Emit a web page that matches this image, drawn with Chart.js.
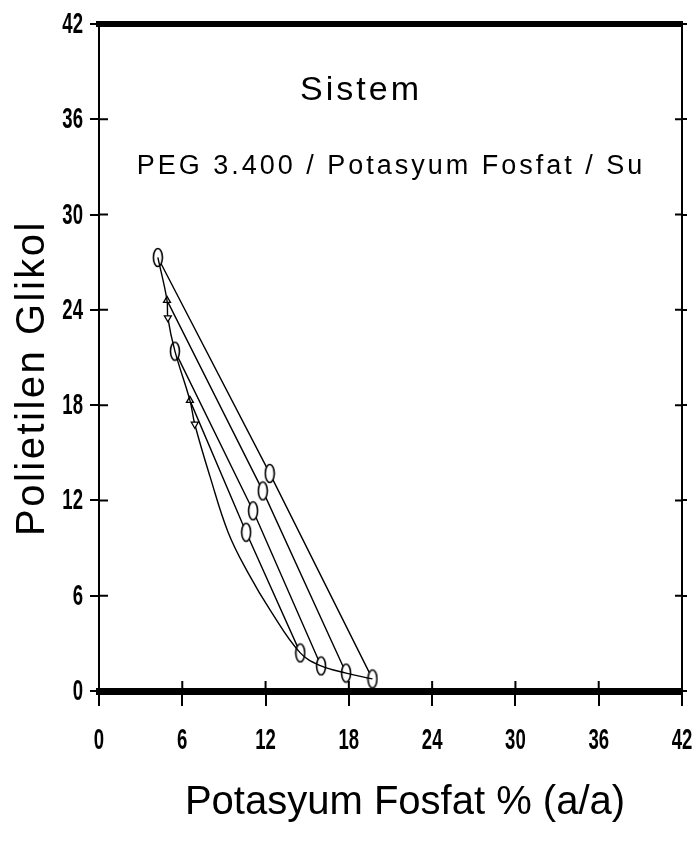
<!DOCTYPE html>
<html>
<head>
<meta charset="utf-8">
<title>PEG 3.400 / Potasyum Fosfat / Su</title>
<script src="https://cdn.jsdelivr.net/npm/chart.js@4"></script>
<style>
  html, body { margin: 0; padding: 0; background: #fff; }
</style>
</head>
<body>
<canvas id="chart" width="699" height="855"></canvas>
<script>
// tick values for both axes
const axisTicks = [0, 6, 12, 18, 24, 30, 36, 42];

// binodal curve
const binodalX = [4.24, 4.9, 4.96, 5.47, 6.55, 6.9, 8.0, 9.3, 10.7, 12.4, 14.5, 16.0, 17.8, 19.7];
const binodalY = [27.3, 24.6, 23.5, 21.4, 18.3, 16.8, 13.5, 10.0, 7.5, 5.0, 2.4, 1.58, 1.13, 0.76];

// tie lines: top phase, total composition, bottom phase
const tie1X = [4.24, 12.3, 19.7];
const tie1Y = [27.3, 13.7, 0.76];
const tie2X = [4.9, 11.8, 17.8];
const tie2Y = [24.6, 12.6, 1.13];
const tie3X = [5.47, 11.1, 16.0];
const tie3Y = [21.4, 11.35, 1.58];
const tie4X = [6.55, 10.6, 14.5];
const tie4Y = [18.3, 10.0, 2.4];

const toPoints = (xs, ys) => xs.map((v, i) => ({ x: v, y: ys[i] }));

// tall open ellipse used as marker
const ellipse = document.createElement('canvas');
ellipse.width = 12;
ellipse.height = 21;
(function () {
  const c = ellipse.getContext('2d');
  c.beginPath();
  c.ellipse(6, 10.5, 4.5, 9, 0, 0, Math.PI * 2);
  c.fillStyle = '#fff';
  c.fill();
  c.lineWidth = 1.6;
  c.strokeStyle = '#000';
  c.stroke();
})();

function tieSet(xs, ys, topStyle) {
  return {
    data: toPoints(xs, ys),
    showLine: true,
    borderColor: '#000',
    borderWidth: 1.4,
    tension: 0,
    pointStyle: [topStyle, ellipse, ellipse],
    pointRadius: 4,
    pointBackgroundColor: '#fff',
    pointBorderColor: '#000',
    pointBorderWidth: 1.3
  };
}

// inward tick stubs, narrow tick labels and the texts
const frameText = {
  id: 'frameText',
  afterDraw(chart) {
    const ctx = chart.ctx;
    const { x, y, y2 } = chart.scales;
    ctx.save();
    ctx.strokeStyle = '#000';
    ctx.lineWidth = 2;
    ctx.beginPath();
    axisTicks.forEach(v => {
      const py = y.getPixelForValue(v);
      ctx.moveTo(y.right, py);
      ctx.lineTo(y.right + 9, py);
      const ry = y2.getPixelForValue(v);
      ctx.moveTo(y2.left - 7, ry);
      ctx.lineTo(y2.left, ry);
      const px = x.getPixelForValue(v);
      ctx.moveTo(px, x.top - 10);
      ctx.lineTo(px, x.top);
    });
    ctx.stroke();

    ctx.fillStyle = '#000';
    ctx.textBaseline = 'middle';
    ctx.font = 'bold 29px "Liberation Sans", Arial, sans-serif';
    axisTicks.forEach(v => {
      ctx.save();
      ctx.translate(x.getPixelForValue(v), 741);
      ctx.scale(0.64, 1);
      ctx.textAlign = 'center';
      ctx.fillText(String(v), 0, 0);
      ctx.restore();
      ctx.save();
      ctx.translate(y.right - 16, y.getPixelForValue(v) + 1);
      ctx.scale(0.64, 1);
      ctx.textAlign = 'right';
      ctx.fillText(String(v), 0, 0);
      ctx.restore();
    });

    ctx.textAlign = 'center';
    ctx.font = '34px "Liberation Sans", Arial, sans-serif';
    ctx.letterSpacing = '3px';
    ctx.fillText('Sistem', 361, 91);
    ctx.font = '27px "Liberation Sans", Arial, sans-serif';
    ctx.fillText('PEG 3.400 / Potasyum Fosfat / Su', 391, 167);

    ctx.letterSpacing = '0px';
    ctx.font = '40px "Liberation Sans", Arial, sans-serif';
    ctx.fillText('Potasyum Fosfat % (a/a)', 405, 803);

    ctx.translate(33, 378);
    ctx.rotate(-Math.PI / 2);
    ctx.letterSpacing = '2.5px';
    ctx.fillText('Polietilen Glikol', 0, 0);
    ctx.restore();
  }
};

new Chart(document.getElementById('chart'), {
  type: 'scatter',
  data: {
    datasets: [
      {
        data: toPoints(binodalX, binodalY),
        showLine: true,
        borderColor: '#000',
        borderWidth: 1.4,
        tension: 0.4,
        pointStyle: 'triangle',
        rotation: 180,
        pointRadius: binodalX.map((v, i) => (i === 2 || i === 5 ? 4 : 0)),
        pointBackgroundColor: '#fff',
        pointBorderColor: '#000',
        pointBorderWidth: 1.3
      },
      tieSet(tie1X, tie1Y, ellipse),
      tieSet(tie2X, tie2Y, 'triangle'),
      tieSet(tie3X, tie3Y, ellipse),
      tieSet(tie4X, tie4Y, 'triangle')
    ]
  },
  options: {
    responsive: false,
    animation: false,
    layout: { padding: 0, autoPadding: false },
    plugins: {
      legend: { display: false },
      tooltip: { enabled: false }
    },
    scales: {
      x: {
        type: 'linear',
        position: 'bottom',
        min: 0,
        max: 42,
        afterBuildTicks: s => { s.ticks = axisTicks.map(v => ({ value: v })); },
        afterFit: s => { s.height = 164; },
        border: { display: true, color: '#000', width: 7 },
        grid: { drawOnChartArea: false, color: '#000', lineWidth: 2, tickLength: 15 },
        ticks: { display: false }
      },
      x2: {
        type: 'linear',
        position: 'top',
        min: 0,
        max: 42,
        afterFit: s => { s.height = 24; },
        border: { display: true, color: '#000', width: 6 },
        grid: { display: false },
        ticks: { display: false }
      },
      y: {
        type: 'linear',
        position: 'left',
        min: 0,
        max: 42,
        afterBuildTicks: s => { s.ticks = axisTicks.map(v => ({ value: v })); },
        afterFit: s => { s.width = 99; },
        border: { display: true, color: '#000', width: 2 },
        grid: { drawOnChartArea: false, color: '#000', lineWidth: 2, tickLength: 9 },
        ticks: { display: false }
      },
      y2: {
        type: 'linear',
        position: 'right',
        min: 0,
        max: 42,
        afterBuildTicks: s => { s.ticks = axisTicks.map(v => ({ value: v })); },
        afterFit: s => { s.width = 17; },
        border: { display: true, color: '#000', width: 2 },
        grid: { drawOnChartArea: false, color: '#000', lineWidth: 2, tickLength: 5 },
        ticks: { display: false }
      }
    }
  },
  plugins: [frameText]
});
</script>
</body>
</html>
